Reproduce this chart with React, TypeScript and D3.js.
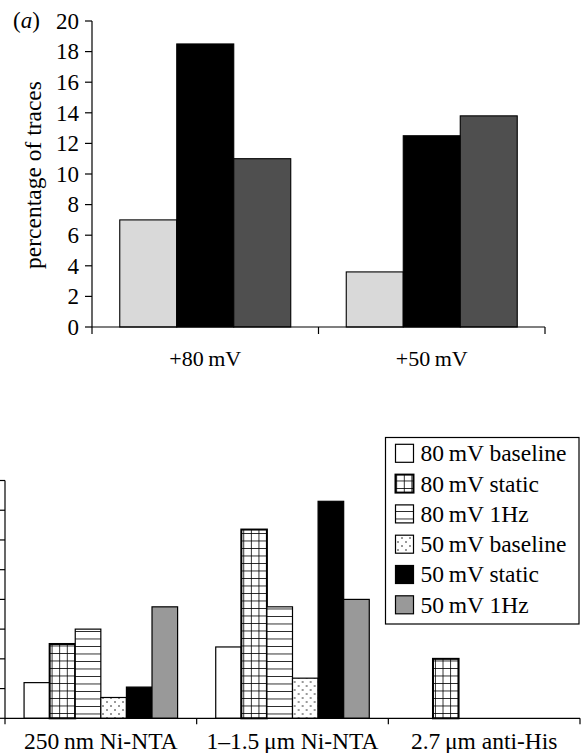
import React from "react";
import * as d3 from "d3";

// ---- Panel (a) data ----
const topCategories = ["+80\u2009mV", "+50\u2009mV"];
const topSeriesKeys = ["baseline", "static", "1Hz"];
const topBaseline = [7.0, 3.6];
const topStatic = [18.5, 12.5];
const top1Hz = [11.0, 13.8];
const topTicks = [0, 2, 4, 6, 8, 10, 12, 14, 16, 18, 20];
const topColors = ["#d9d9d9", "#000000", "#4f4f4f"];

// ---- Panel (b) data ----
const bottomCategories = ["250\u2009nm Ni-NTA", "1\u20131.5\u2009\u03bcm Ni-NTA", "2.7\u2009\u03bcm anti-His"];
const bottomSeriesNames = [
  "80\u2009mV baseline",
  "80\u2009mV static",
  "80\u2009mV 1Hz",
  "50\u2009mV baseline",
  "50\u2009mV static",
  "50\u2009mV 1Hz",
];
const b80Baseline = [1.2, 2.4, 0];
const b80Static = [2.5, 6.35, 2.0];
const b801Hz = [3.0, 3.75, 0];
const b50Baseline = [0.7, 1.35, 0];
const b50Static = [1.05, 7.3, 0];
const b501Hz = [3.75, 4.0, 0];
const bottomTicks = [0, 1, 2, 3, 4, 5, 6, 7, 8];
const bottomFills = ["#ffffff", "url(#grid)", "url(#hlines)", "url(#dots)", "#000000", "#999999"];

const FONT = "Liberation Serif";
const fs = (n: number): React.CSSProperties => ({ fontFamily: FONT, fontSize: `${n}px` });

export default function App() {
  const topValues = [topBaseline, topStatic, top1Hz];
  const bottomValues = [b80Baseline, b80Static, b801Hz, b50Baseline, b50Static, b501Hz];

  const xTop = d3.scaleBand<string>().domain(topCategories).range([92, 545]).padding(0);
  const xTopInner = d3
    .scaleBand<string>()
    .domain(topSeriesKeys)
    .range([0, xTop.bandwidth()])
    .paddingInner(0)
    .paddingOuter(0.487);
  const yTop = d3.scaleLinear().domain([0, 20]).range([327, 21]);

  const xBot = d3.scaleBand<string>().domain(bottomCategories).range([5, 580]).padding(0);
  const xBotInner = d3
    .scaleBand<string>()
    .domain(bottomSeriesNames)
    .range([0, xBot.bandwidth()])
    .paddingInner(0)
    .paddingOuter(0.745);
  const yBot = d3.scaleLinear().domain([0, 8]).range([718.3, 480.5]);

  const topBoundaries = [...topCategories.map((c) => xTop(c)!), xTop.range()[1]];
  const botBoundaries = [...bottomCategories.map((c) => xBot(c)!), xBot.range()[1]];

  const legendX = 385.5;
  const legendY = 437.5;
  const legendW = 193.5;
  const legendH = 186.5;
  const rowStep = 30.3;

  return (
    <svg
      width={585}
      height={753}
      style={{ position: "absolute", left: 0, top: 0, background: "#fff", fontFamily: FONT }}
    >
      <defs>
        <pattern id="grid" patternUnits="userSpaceOnUse" width={7.6} height={7.5} x={1} y={0.5}>
          <rect width={7.6} height={7.5} fill="#fff" />
          <line x1={0} y1={0} x2={7.6} y2={0} stroke="#000" strokeWidth={1.6} />
          <line x1={0} y1={0} x2={0} y2={7.5} stroke="#000" strokeWidth={1.6} />
        </pattern>
        <pattern id="hlines" patternUnits="userSpaceOnUse" width={10} height={7.5} x={0} y={1}>
          <rect width={10} height={7.5} fill="#fff" />
          <line x1={0} y1={0} x2={10} y2={0} stroke="#000" strokeWidth={1.6} />
        </pattern>
        <pattern id="dots" patternUnits="userSpaceOnUse" width={8} height={8}>
          <rect width={8} height={8} fill="#fff" />
          <circle cx={2} cy={2} r={0.75} fill="#000" />
          <circle cx={6} cy={6} r={0.75} fill="#000" />
        </pattern>
      </defs>

      {/* ---------- Panel (a) ---------- */}
      <text x={13} y={28} style={fs(23)}>
        (<tspan fontStyle="italic">a</tspan>)
      </text>
      <text transform={`translate(41, 175) rotate(-90)`} textAnchor="middle" style={fs(23.5)}>
        percentage of traces
      </text>
      {topCategories.map((cat, ci) => (
        <g key={cat} transform={`translate(${xTop(cat)},0)`}>
          {topSeriesKeys.map((k, si) => {
            const v = topValues[si][ci];
            return (
              <rect
                key={k}
                x={xTopInner(k)}
                y={yTop(v)}
                width={xTopInner.bandwidth()}
                height={yTop(0) - yTop(v)}
                fill={topColors[si]}
                stroke="#000"
                strokeWidth={1.1}
              />
            );
          })}
        </g>
      ))}
      <line x1={92} x2={92} y1={yTop(20)} y2={yTop(0)} stroke="#000" strokeWidth={1.2} />
      {topTicks.map((t) => (
        <g key={t}>
          <line x1={85} x2={92} y1={yTop(t)} y2={yTop(t)} stroke="#000" strokeWidth={1.2} />
          <text x={79} y={yTop(t)} dy="0.34em" textAnchor="end" style={fs(23)}>
            {t}
          </text>
        </g>
      ))}
      <line x1={92} x2={545} y1={yTop(0)} y2={yTop(0)} stroke="#000" strokeWidth={1.2} />
      {topBoundaries.map((b, i) => (
        <line key={i} x1={b} x2={b} y1={yTop(0)} y2={yTop(0) + 7} stroke="#000" strokeWidth={1.2} />
      ))}
      {topCategories.map((cat) => (
        <text key={cat} x={xTop(cat)! + xTop.bandwidth() / 2} y={366} textAnchor="middle" style={fs(22)}>
          {cat}
        </text>
      ))}

      {/* ---------- Panel (b) ---------- */}
      {bottomCategories.map((cat, ci) => (
        <g key={cat} transform={`translate(${xBot(cat)},0)`}>
          {bottomSeriesNames.map((s, si) => {
            const v = bottomValues[si][ci];
            if (v <= 0) return null;
            return (
              <rect
                key={s}
                x={xBotInner(s)}
                y={yBot(v)}
                width={xBotInner.bandwidth()}
                height={yBot(0) - yBot(v)}
                fill={bottomFills[si]}
                stroke="#000"
                strokeWidth={si === 1 ? 2 : 1.2}
              />
            );
          })}
        </g>
      ))}
      <line x1={5} x2={5} y1={yBot(8)} y2={yBot(0)} stroke="#000" strokeWidth={1.2} />
      {bottomTicks.map((t) => (
        <line key={t} x1={-2} x2={5} y1={yBot(t)} y2={yBot(t)} stroke="#000" strokeWidth={1.2} />
      ))}
      <line x1={5} x2={580} y1={yBot(0)} y2={yBot(0)} stroke="#000" strokeWidth={1.2} />
      {botBoundaries.map((b, i) => (
        <line key={i} x1={b} x2={b} y1={yBot(0)} y2={yBot(0) + 6} stroke="#000" strokeWidth={1.2} />
      ))}
      {bottomCategories.map((cat) => (
        <text key={cat} x={xBot(cat)! + xBot.bandwidth() / 2} y={749} textAnchor="middle" style={fs(23.5)}>
          {cat}
        </text>
      ))}

      {/* legend */}
      <rect x={legendX} y={legendY} width={legendW} height={legendH} fill="#fff" stroke="#000" strokeWidth={1.2} />
      {bottomSeriesNames.map((s, i) => {
        const cy = 453.3 + i * rowStep;
        return (
          <g key={s}>
            <rect
              x={395.5}
              y={cy - 9}
              width={18}
              height={18}
              fill={bottomFills[i]}
              stroke="#000"
              strokeWidth={i === 1 ? 2 : 1.2}
            />
            <text x={420.5} y={cy} dy="0.34em" style={fs(23.5)}>
              {s}
            </text>
          </g>
        );
      })}
    </svg>
  );
}
